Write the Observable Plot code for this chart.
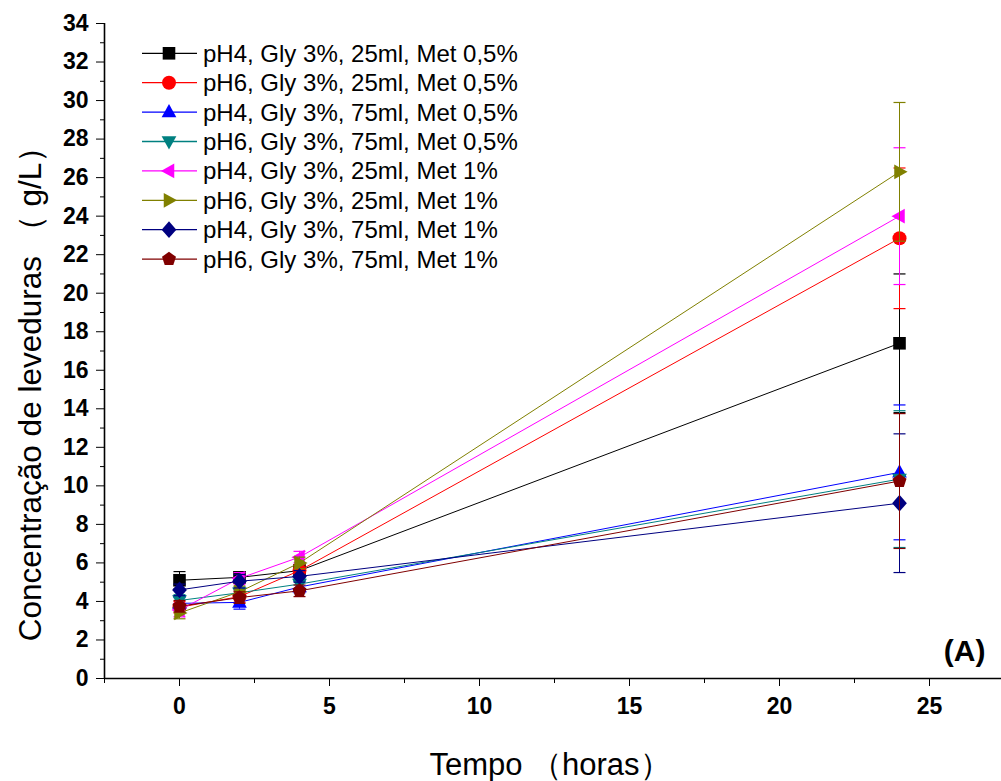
<!DOCTYPE html>
<html><head><meta charset="utf-8">
<script src="https://cdn.jsdelivr.net/npm/d3@7"></script>
<script src="https://cdn.jsdelivr.net/npm/@observablehq/plot@0.6"></script>
<style>
body{margin:0;background:#fff}
#chart{position:relative;width:1001px;height:781px}
</style>
</head><body><div id="chart"></div>
<script>
// ---- data ----
const times = [0, 2, 4, 24];
const seriesNames = [
  "pH4, Gly 3%, 25ml, Met 0,5%",
  "pH6, Gly 3%, 25ml, Met 0,5%",
  "pH4, Gly 3%, 75ml, Met 0,5%",
  "pH6, Gly 3%, 75ml, Met 0,5%",
  "pH4, Gly 3%, 25ml, Met 1%",
  "pH6, Gly 3%, 25ml, Met 1%",
  "pH4, Gly 3%, 75ml, Met 1%",
  "pH6, Gly 3%, 75ml, Met 1%"
];
const seriesColors = ["#000000", "#ff0000", "#0000ff", "#008080", "#ff00ff", "#808000", "#000080", "#800000"];
const seriesSymbols = ["square", "circle", "triangleUp", "triangleDown", "triangleLeft", "triangleRight", "diamond", "pentagon"];

const pH4_25_met05 = [5.1, 5.25, 5.6, 17.4];
const pH6_25_met05 = [3.7, 4.25, 5.6, 22.85];
const pH4_75_met05 = [3.9, 3.95, 4.75, 10.7];
const pH6_75_met05 = [4.05, 4.45, 4.9, 10.35];
const pH4_25_met1 = [3.55, 5.2, 6.3, 24.0];
const pH6_25_met1 = [3.4, 4.5, 6.0, 26.3];
const pH4_75_met1 = [4.6, 5.05, 5.3, 9.1];
const pH6_75_met1 = [3.75, 4.2, 4.55, 10.25];

const err_pH4_25_met05 = [0.45, 0.3, 0.3, 3.6];
const err_pH6_25_met05 = [0.3, 0.3, 0.3, 3.65];
const err_pH4_75_met05 = [0.3, 0.35, 0.3, 3.5];
const err_pH6_75_met05 = [0.3, 0.3, 0.3, 3.55];
const err_pH4_25_met1 = [0.35, 0.3, 0.3, 3.55];
const err_pH6_25_met1 = [0.3, 0.3, 0.3, 3.6];
const err_pH4_75_met1 = [0.3, 0.35, 0.3, 3.6];
const err_pH6_75_met1 = [0.3, 0.3, 0.3, 3.5];

const yMajorTicks = [0,2,4,6,8,10,12,14,16,18,20,22,24,26,28,30,32,34];
const yMinorTicks = [1,3,5,7,9,11,13,15,17,19,21,23,25,27,29,31,33];
const xMajorTicks = [0,5,10,15,20,25];
const xMinorTicks = [-2.5,2.5,7.5,12.5,17.5,22.5];

const seriesValues = [pH4_25_met05, pH6_25_met05, pH4_75_met05, pH6_75_met05, pH4_25_met1, pH6_25_met1, pH4_75_met1, pH6_75_met1];
const seriesErrors = [err_pH4_25_met05, err_pH6_25_met05, err_pH4_75_met05, err_pH6_75_met05, err_pH4_25_met1, err_pH6_25_met1, err_pH4_75_met1, err_pH6_75_met1];

// ---- symbols ----
function drawShape(name, c, r) {
  switch (name) {
    case "square": { const h = r * 0.9; c.rect(-h, -h, 2*h, 2*h); break; }
    case "circle": c.moveTo(r, 0); c.arc(0, 0, r, 0, 2*Math.PI); break;
    case "triangleUp": c.moveTo(0, -r*1.15); c.lineTo(r*1.05, r*0.75); c.lineTo(-r*1.05, r*0.75); c.closePath(); break;
    case "triangleDown": c.moveTo(0, r*1.15); c.lineTo(r*1.05, -r*0.75); c.lineTo(-r*1.05, -r*0.75); c.closePath(); break;
    case "triangleLeft": c.moveTo(-r*1.15, 0); c.lineTo(r*0.75, r*1.05); c.lineTo(r*0.75, -r*1.05); c.closePath(); break;
    case "triangleRight": c.moveTo(r*1.15, 0); c.lineTo(-r*0.75, r*1.05); c.lineTo(-r*0.75, -r*1.05); c.closePath(); break;
    case "diamond": c.moveTo(0, -r*1.2); c.lineTo(r*1.05, 0); c.lineTo(0, r*1.2); c.lineTo(-r*1.05, 0); c.closePath(); break;
    case "pentagon": {
      for (let k = 0; k < 5; k++) {
        const a = -Math.PI/2 + k * 2*Math.PI/5;
        const px = Math.cos(a) * r * 1.05, py = Math.sin(a) * r * 1.05;
        if (k === 0) c.moveTo(px, py); else c.lineTo(px, py);
      }
      c.closePath(); break;
    }
  }
}
function symbolObj(name) {
  return {draw(c, size) { drawShape(name, c, Math.sqrt(size / Math.PI)); }};
}
const capSymbol = {draw(c) { c.moveTo(-6, 0); c.lineTo(6, 0); }};

// ---- marks ----
const tickFont = {fontSize: 23, fontWeight: "bold", fontFamily: "'Liberation Sans', Arial, sans-serif", fill: "#000"};
const marks = [];
marks.push(Plot.axisY({ticks: yMinorTicks, tickSize: 4, text: null, label: null}));
marks.push(Plot.axisY({ticks: yMajorTicks, tickSize: 8, text: null, label: null}));
marks.push(Plot.text(yMajorTicks, {y: d => d, frameAnchor: "left", dx: -16, textAnchor: "end", lineAnchor: "middle", text: d => String(d), ...tickFont}));
marks.push(Plot.axisX({ticks: xMajorTicks, tickSize: 8, text: null, label: null}));
marks.push(Plot.axisX({ticks: xMinorTicks, tickSize: 5, text: null, label: null}));
marks.push(Plot.text(xMajorTicks, {x: d => d, frameAnchor: "bottom", dy: 19, textAnchor: "middle", lineAnchor: "top", text: d => String(d), ...tickFont}));
marks.push(Plot.ruleY([0], {stroke: "#000", strokeWidth: 1.6}));
marks.push(Plot.ruleX([-2.5], {stroke: "#000", strokeWidth: 1.6}));

seriesNames.forEach((name, i) => {
  const rows = times.map((t, j) => ({t, v: seriesValues[i][j], lo: seriesValues[i][j] - seriesErrors[i][j], hi: seriesValues[i][j] + seriesErrors[i][j]}));
  const col = seriesColors[i];
  marks.push(Plot.ruleX(rows, {x: "t", y1: "lo", y2: "hi", stroke: col, strokeWidth: 1}));
  marks.push(Plot.dot(rows, {x: "t", y: "lo", symbol: capSymbol, stroke: col, fill: "none", strokeWidth: 1.2}));
  marks.push(Plot.dot(rows, {x: "t", y: "hi", symbol: capSymbol, stroke: col, fill: "none", strokeWidth: 1.2}));
  marks.push(Plot.line(rows, {x: "t", y: "v", stroke: col, strokeWidth: 1}));
  marks.push(Plot.dot(rows, {x: "t", y: "v", symbol: symbolObj(seriesSymbols[i]), r: 7, fill: col, stroke: "none"}));
});

marks.push(Plot.text(["Concentração de leveduras （ g/L）"], {frameAnchor: "left", rotate: -90, textAnchor: "middle", lineAnchor: "middle", dx: -74, dy: 35, fontSize: 31.5, fill: "#000"}));
marks.push(Plot.text(["Tempo （horas）"], {frameAnchor: "bottom", textAnchor: "middle", dx: -3, dy: 87, fontSize: 31, fill: "#000", lineAnchor: "middle"}));
marks.push(Plot.text(["(A)"], {frameAnchor: "bottom-right", dx: -16, dy: -18, fontSize: 30, fontWeight: "bold", fill: "#000", textAnchor: "end"}));

const svg = Plot.plot({
  width: 1001,
  height: 781,
  marginLeft: 104,
  marginRight: 0,
  marginTop: 23,
  marginBottom: 103,
  style: {fontFamily: "'Liberation Sans', Arial, sans-serif", background: "#fff", color: "#000", overflow: "visible"},
  x: {domain: [-2.5, 27.4]},
  y: {domain: [0, 34]},
  marks
});

// ---- legend (inside the plot area, top-left) ----
const g = d3.select(svg).append("g").attr("font-family", "'Liberation Sans', Arial, sans-serif").attr("font-size", 24).attr("text-anchor", "start");
seriesNames.forEach((name, i) => {
  const cy = 53.3 + i * 29.4;
  const row = g.append("g").attr("transform", `translate(0,${cy})`);
  row.append("line").attr("x1", 142).attr("x2", 197).attr("y1", 0).attr("y2", 0).attr("stroke", seriesColors[i]).attr("stroke-width", 1.3);
  const p = d3.path();
  drawShape(seriesSymbols[i], p, 7);
  row.append("path").attr("d", p.toString()).attr("transform", "translate(169,0)").attr("fill", seriesColors[i]);
  row.append("text").attr("x", 203).attr("y", 0).attr("dy", "0.35em").attr("text-anchor", "start").attr("fill", "#000").text(name);
});

document.getElementById("chart").appendChild(svg);
</script>
</body></html>
